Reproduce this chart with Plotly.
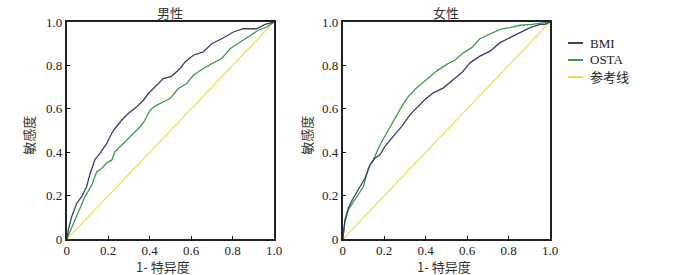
import plotly.graph_objects as go

# ROC curve points (1 - specificity, sensitivity)
male_bmi_x = [0, 0.008, 0.024, 0.048, 0.072, 0.096, 0.113, 0.137, 0.161, 0.193, 0.217, 0.233, 0.265, 0.297,
              0.338, 0.37, 0.394, 0.426, 0.466, 0.506, 0.547, 0.571, 0.611, 0.659, 0.699, 0.748, 0.804, 0.852,
              0.916, 0.957, 1.0]
male_bmi_y = [0, 0.043, 0.104, 0.165, 0.196, 0.242, 0.303, 0.368, 0.395, 0.441, 0.487, 0.51, 0.548, 0.579,
              0.61, 0.64, 0.671, 0.701, 0.74, 0.75, 0.786, 0.816, 0.847, 0.862, 0.9, 0.923, 0.954, 0.969,
              0.969, 0.989, 1.0]

male_osta_x = [0, 0.016, 0.04, 0.064, 0.088, 0.121, 0.145, 0.169, 0.193, 0.217, 0.233, 0.273, 0.314, 0.354,
               0.373, 0.402, 0.426, 0.466, 0.498, 0.539, 0.579, 0.611, 0.659, 0.707, 0.748, 0.788, 0.836,
               0.884, 0.924, 0.965, 1.0]
male_osta_y = [0, 0.035, 0.089, 0.135, 0.196, 0.25, 0.311, 0.326, 0.352, 0.364, 0.403, 0.441, 0.479, 0.518,
               0.541, 0.594, 0.613, 0.632, 0.648, 0.694, 0.717, 0.755, 0.786, 0.812, 0.832, 0.877, 0.908,
               0.939, 0.962, 0.977, 1.0]

female_bmi_x = [0, 0.011, 0.027, 0.051, 0.084, 0.108, 0.132, 0.156, 0.18, 0.204, 0.244, 0.285, 0.325, 0.357,
                0.397, 0.437, 0.486, 0.534, 0.574, 0.614, 0.662, 0.711, 0.759, 0.807, 0.855, 0.904, 0.952,
                0.976, 1.0]
female_bmi_y = [0, 0.089, 0.143, 0.189, 0.243, 0.282, 0.343, 0.374, 0.389, 0.428, 0.474, 0.52, 0.574, 0.605,
                0.643, 0.674, 0.697, 0.735, 0.766, 0.812, 0.843, 0.866, 0.905, 0.928, 0.951, 0.974, 0.989,
                0.989, 1.0]

female_osta_x = [0, 0.011, 0.027, 0.059, 0.1, 0.124, 0.148, 0.18, 0.22, 0.252, 0.285, 0.317, 0.357, 0.405,
                 0.453, 0.502, 0.542, 0.582, 0.622, 0.662, 0.711, 0.759, 0.807, 0.855, 0.912, 0.952, 1.0]
female_osta_y = [0, 0.082, 0.135, 0.182, 0.243, 0.328, 0.366, 0.435, 0.505, 0.558, 0.612, 0.658, 0.697, 0.735,
                 0.774, 0.805, 0.825, 0.858, 0.882, 0.923, 0.943, 0.966, 0.974, 0.985, 0.989, 0.994, 1.0]

ref_x = [0, 1]
ref_y = [0, 1]

tick_vals = [0, 0.2, 0.4, 0.6, 0.8, 1.0]
tick_text = ['0', '0.2', '0.4', '0.6', '0.8', '1.0']

series_names = ['BMI', 'OSTA', '参考线']
colors = ['#3b3d70', '#3f9a50', '#f0dc4c']

serif = 'Liberation Serif, Noto Sans CJK SC, serif'
cjk = 'Noto Sans CJK SC, sans-serif'

W, H = 700, 275


def px(v):
    # window x pixel -> paper fraction
    return v / W


def py(v):
    # window y pixel (from top) -> paper fraction
    return 1 - v / H


fig = go.Figure()

panels = [
    ('x', 'y', male_bmi_x, male_bmi_y, male_osta_x, male_osta_y),
    ('x2', 'y2', female_bmi_x, female_bmi_y, female_osta_x, female_osta_y),
]
for xa, ya, bx, by, ox, oy in panels:
    fig.add_trace(go.Scatter(x=ref_x, y=ref_y, mode='lines', xaxis=xa, yaxis=ya,
                             line=dict(color=colors[2], width=1.2), showlegend=False))
    fig.add_trace(go.Scatter(x=ox, y=oy, mode='lines', xaxis=xa, yaxis=ya,
                             line=dict(color=colors[1], width=1.3), showlegend=False))
    fig.add_trace(go.Scatter(x=bx, y=by, mode='lines', xaxis=xa, yaxis=ya,
                             line=dict(color=colors[0], width=1.3), showlegend=False))

# no automargin, so the plot boxes stay exactly where the domains put them
axis_style = dict(range=[0, 1], tickvals=tick_vals, ticktext=tick_text, ticks='inside', ticklen=4,
                  tickcolor='black', showline=True, linecolor='#222', linewidth=1.5, mirror=True,
                  showgrid=False, zeroline=False, automargin=False,
                  tickfont=dict(family=serif, size=13, color='#222'), fixedrange=True)

fig.update_layout(
    width=W, height=H,
    margin=dict(l=0, r=0, t=0, b=0, pad=0, autoexpand=False),
    paper_bgcolor='white', plot_bgcolor='white',
    showlegend=False,
    xaxis=dict(domain=[px(66.7), px(274)], anchor='y', ticklabelstandoff=-2, **axis_style),
    yaxis=dict(domain=[py(239.3), py(22)], anchor='x', **axis_style),
    xaxis2=dict(domain=[px(342.7), px(550)], anchor='y2', ticklabelstandoff=-2, **axis_style),
    yaxis2=dict(domain=[py(239.3), py(22)], anchor='x2', **axis_style),
)

# panel titles and axis titles (anchors set explicitly, 'auto' shifts paper annotations)
title_font = dict(family=cjk, size=13, color='#333')
annotations = []
for cx, xt_cx, title, ax_left, yt_gap in [(170, 163, '男性', 66.7, 39), (446, 444, '女性', 342.7, 37)]:
    annotations.append(dict(x=px(cx), y=py(13), xref='paper', yref='paper', text=title,
                            xanchor='center', yanchor='middle', showarrow=False, font=title_font))
    annotations.append(dict(x=px(xt_cx), y=py(266), xref='paper', yref='paper', text='1- 特异度',
                            xanchor='center', yanchor='middle', showarrow=False, font=title_font))
    annotations.append(dict(x=px(ax_left - yt_gap), y=py(135), xref='paper', yref='paper',
                            text='敏感度', textangle=-90, xanchor='center', yanchor='middle',
                            showarrow=False, font=title_font))

# manual legend
shapes = []
for i, (name, col) in enumerate(zip(series_names, colors)):
    ypix = 43 + i * 17
    shapes.append(dict(type='line', xref='paper', yref='paper', x0=px(568), x1=px(583),
                       y0=py(ypix), y1=py(ypix), line=dict(color=col, width=2)))
    annotations.append(dict(x=px(588), y=py(ypix), xref='paper', yref='paper', text=name,
                            xanchor='left', yanchor='middle', showarrow=False,
                            font=dict(family=serif, size=13, color='#222')))

fig.update_layout(annotations=annotations, shapes=shapes)

# drop the default 8px body margin so the figure sits at the window's top-left corner
fig.write_html('out.html', config={'displayModeBar': False},
               post_script="document.body.style.margin = '0px';")
